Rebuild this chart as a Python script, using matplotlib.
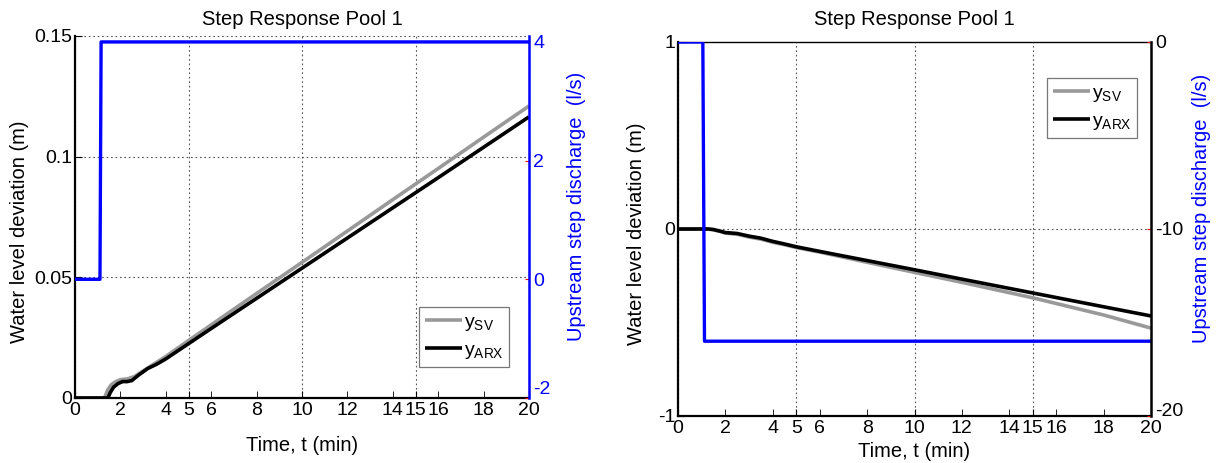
import matplotlib
matplotlib.use("Agg")
import matplotlib.pyplot as plt
import matplotlib.transforms as mtrans
import numpy as np

plt.rcParams['font.family'] = ['Liberation Sans', 'DejaVu Sans']
plt.rcParams['mathtext.default'] = 'regular'
plt.rcParams['axes.unicode_minus'] = False

# ---------------- data ----------------
title = "Step Response Pool 1"
xlabel = "Time, t (min)"
ylabel_left = "Water level deviation (m)"
ylabel_right = "Upstream step discharge  (l/s)"
labels = ["$y_{SV}$", "$y_{ARX}$"]

# Left panel
L_t_sv = [0, 1.3, 1.45, 1.6, 1.8, 2.0, 2.3, 2.6, 3.0, 3.5, 4.0, 5, 6, 8, 10, 12, 14, 16, 18, 20]
L_sv = [0, 0, 0.0035, 0.0055, 0.0068, 0.0076, 0.0079, 0.0088, 0.0112, 0.0142, 0.0172,
        0.0238, 0.0303, 0.0433, 0.0562, 0.0692, 0.0822, 0.0951, 0.1081, 0.1210]
L_t_arx = [0, 1.45, 1.55, 1.7, 1.9, 2.1, 2.3, 2.5, 2.8, 3.2, 3.6, 4.0, 5, 6, 8, 10, 12, 14, 16, 18, 20]
L_arx = [0, 0, 0.0022, 0.0045, 0.006, 0.0068, 0.0068, 0.0072, 0.0095, 0.0122, 0.014, 0.0162,
         0.0225, 0.0288, 0.0413, 0.0538, 0.0663, 0.0788, 0.0913, 0.1039, 0.1165]
L_t_q = [0, 1.1, 1.15, 20]
L_q = [0, 0, 4, 4]

# Right panel
R_t_sv = [0, 1.2, 1.5, 1.8, 2.0, 2.5, 3.0, 3.5, 4.0, 4.5, 5, 6, 8, 10, 12, 15, 18, 20]
R_sv = [0, 0, -0.004, -0.014, -0.022, -0.028, -0.043, -0.054, -0.071, -0.084, -0.099,
        -0.124, -0.178, -0.232, -0.285, -0.368, -0.460, -0.530]
R_t_arx = [0, 1.3, 1.5, 1.8, 2.0, 2.5, 3.0, 3.5, 4.0, 4.5, 5, 6, 8, 10, 12, 15, 18, 20]
R_arx = [0, 0, -0.003, -0.012, -0.019, -0.024, -0.038, -0.049, -0.066, -0.08, -0.095,
         -0.12, -0.169, -0.218, -0.268, -0.342, -0.416, -0.465]
R_t_q = [0, 1.05, 1.12, 20]
R_q = [0, 0, -16, -16]

x_major = [0, 5, 10, 15, 20]
x_minor = [2, 4, 6, 8, 12, 14, 16, 18]

W, H = 1221, 463
fig = plt.figure(figsize=(W / 100, H / 100), dpi=100)

FS = 14
FL = 14.5
grid_kw = dict(color='#555555', linestyle=(0, (1.5, 2.5)), linewidth=0.8)


def setup_x(ax):
    ax.set_xlim(0, 20)
    ax.set_xticks(x_major)
    ax.set_xticks(x_minor, minor=True)
    ax.set_xticklabels([str(v) for v in x_major])
    ax.set_xticklabels([str(v) for v in x_minor], minor=True)
    ax.tick_params(axis='x', which='both', direction='in', length=5, labelsize=FS, pad=3)
    ax.xaxis.grid(True, which='major', **grid_kw)


def panel(px, t_sv, sv, t_arx, arx, t_q, q, ylim, yticks, yticklabels, y2lim, y2ticks,
          hgrid, top_dotted, leg_px, right_spine_color, lab_px, lift):
    x0, x1, ytop, ybot = px
    ax = fig.add_axes([x0 / W, 1 - ybot / H, (x1 - x0) / W, (ybot - ytop) / H])
    aw, ah = x1 - x0, ybot - ytop
    setup_x(ax)
    ax.set_ylim(*ylim)
    ax.set_yticks(yticks)
    ax.set_yticklabels(yticklabels)
    ax.tick_params(axis='y', direction='in', length=5, labelsize=FS, pad=2)
    for yv in hgrid:
        ax.axhline(yv, **grid_kw, zorder=0.5)
    l1, = ax.plot(t_sv, sv, color='#999999', linewidth=2.6, label=labels[0], solid_capstyle='butt')
    l2, = ax.plot(t_arx, arx, color='black', linewidth=2.6, label=labels[1], solid_capstyle='butt')
    fig.text((x0 + x1) / 2 / W, 1 - 25 / H, title, fontsize=FL, ha='center', va='baseline')
    ax.set_xlabel(xlabel, fontsize=FL)
    ax.set_ylabel(ylabel_left, fontsize=FL)
    xl_top, yl_right, yl_cy, yr_left, yr_cy = lab_px
    ax.xaxis.set_label_coords(0.5, (ybot - xl_top) / ah)
    ax.yaxis.set_label_coords((yl_right - x0) / aw, (ybot - yl_cy) / ah)
    ax.spines['left'].set_linewidth(1.6)
    ax.spines['bottom'].set_linewidth(1.6)
    if top_dotted:
        ax.spines['top'].set_visible(False)
    else:
        ax.spines['top'].set_linewidth(1.0)
    ax.spines['right'].set_visible(False)

    ax2 = ax.twinx()
    ax2.plot(t_q, q, color='#0000ff', linewidth=2.4, solid_capstyle='butt')
    ax2.set_ylim(*y2lim)
    ax2.set_yticks(y2ticks)
    ax2.tick_params(axis='y', direction='in', length=3, color='red', labelsize=FS, pad=3,
                    labelcolor='#0000ff' if right_spine_color != 'black' else 'black')
    ax2.set_ylabel(ylabel_right, fontsize=FL, color='#0000ff')
    ax2.yaxis.set_label_coords((yr_left - x0) / aw, (ybot - yr_cy) / ah)
    for s in ['left', 'top', 'bottom']:
        ax2.spines[s].set_visible(False)
    ax2.spines['right'].set_color(right_spine_color)
    ax2.spines['right'].set_linewidth(1.8)
    # lift the lowest right-axis label a little (as in the reference) so it clears "20"
    fig.canvas.draw()
    lab = ax2.get_yticklabels()[0]
    lab.set_transform(lab.get_transform() +
                      mtrans.ScaledTranslation(0, lift / 100, fig.dpi_scale_trans))
    leg = ax2.legend([l1, l2], labels, loc='lower left',
                     bbox_to_anchor=(leg_px[0] / W, 1 - leg_px[1] / H),
                     bbox_transform=fig.transFigure, fontsize=FS, frameon=True,
                     fancybox=False, edgecolor='#555555', handlelength=1.9,
                     handletextpad=0.1, borderpad=0.3, labelspacing=0.45, borderaxespad=0)
    leg.get_frame().set_linewidth(0.9)
    return ax, ax2


# Left panel
panel((75, 529, 36, 398),
      L_t_sv, L_sv, L_t_arx, L_arx, L_t_q, L_q,
      (0, 0.15), [0, 0.05, 0.1, 0.15], ['0', '0.05', '0.1', '0.15'],
      (-2, 4.1), [-2, 0, 2, 4],
      hgrid=[0.05, 0.1, 0.15], top_dotted=True,
      leg_px=(419, 367), right_spine_color='#0000ff',
      lab_px=(436, 29, 232, 567, 206), lift=10)

# Right panel
panel((678, 1151, 42, 416),
      R_t_sv, R_sv, R_t_arx, R_arx, R_t_q, R_q,
      (-1, 1), [-1, 0, 1], ['-1', '0', '1'],
      (-20, 0), [-20, -10, 0],
      hgrid=[0], top_dotted=False,
      leg_px=(1047, 138), right_spine_color='black',
      lab_px=(442, 646, 234, 1192, 208), lift=6)

fig.savefig("out.png", dpi=100)
